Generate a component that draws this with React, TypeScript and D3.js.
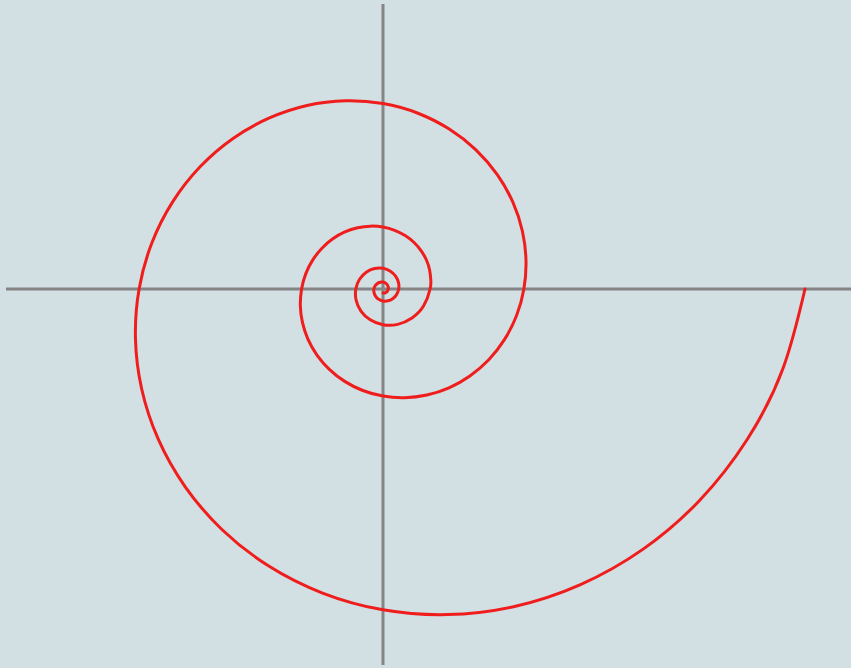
import React, { useEffect, useRef } from 'react';
import * as d3 from 'd3';

// spiral samples (screen angle in degrees, clockwise from +x)
const angles = [
  0, 11.25, 22.5, 33.75, 45, 56.25, 67.5, 78.75,
  90, 101.25, 112.5, 123.75, 135, 146.25, 157.5, 168.75,
  180, 191.25, 202.5, 213.75, 225, 236.25, 247.5, 258.75,
  270, 281.25, 292.5, 303.75, 315, 326.25, 337.5, 348.75,
  360, 371.25, 382.5, 393.75, 405, 416.25, 427.5, 438.75,
  450, 461.25, 472.5, 483.75, 495, 506.25, 517.5, 528.75,
  540, 551.25, 562.5, 573.75, 585, 596.25, 607.5, 618.75,
  630, 641.25, 652.5, 663.75, 675, 686.25, 697.5, 708.75,
  720, 742.5, 765, 787.5, 810, 832.5, 855, 877.5,
  900, 922.5, 945, 967.5, 990, 1012.5, 1035, 1057.5,
  1080, 1102.5, 1125, 1147.5, 1170, 1192.5, 1215, 1237.5,
  1260, 1282.5, 1305, 1327.5, 1350, 1372.5, 1395, 1417.5,
  1440, 1462.5, 1485, 1507.5, 1530,
];
const radii = [
  4.22, 4.078, 3.94, 3.807, 3.679, 3.555, 3.436, 3.32,
  3.208, 3.1, 2.996, 2.895, 2.797, 2.703, 2.612, 2.524,
  2.439, 2.357, 2.277, 2.2, 2.126, 2.054, 1.986, 1.919,
  1.854, 1.792, 1.731, 1.673, 1.616, 1.562, 1.509, 1.458,
  1.409, 1.362, 1.316, 1.272, 1.229, 1.188, 1.147, 1.108,
  1.071, 1.035, 1.0, 0.966, 0.934, 0.903, 0.872, 0.843,
  0.814, 0.787, 0.76, 0.734, 0.71, 0.686, 0.663, 0.641,
  0.619, 0.598, 0.578, 0.559, 0.54, 0.522, 0.504, 0.487,
  0.471, 0.44, 0.41, 0.383, 0.358, 0.334, 0.312, 0.291,
  0.272, 0.254, 0.237, 0.221, 0.207, 0.193, 0.18, 0.168,
  0.157, 0.147, 0.137, 0.128, 0.12, 0.112, 0.104, 0.097,
  0.091, 0.085, 0.079, 0.074, 0.069, 0.065, 0.06, 0.056,
  0.053, 0.049, 0.046, 0.043, 0.04,
];

// axis extents in data units
const xAxisExtent = [-3.77, 4.68];
const yAxisExtent = [2.85, -3.76];

const width = 851;
const height = 668;

const App = () => {
  const ref = useRef<SVGSVGElement>(null);

  useEffect(() => {
    const svg = d3.select(ref.current);
    svg.selectAll('*').remove();

    const x = d3.scaleLinear().domain([-3.83, 4.68]).range([0, width]);
    const y = d3.scaleLinear().domain([2.89, -3.79]).range([0, height]);
    const r = d3.scaleLinear().domain([0, 1]).range([0, x(1) - x(0)]);

    svg.append('rect')
      .attr('width', width)
      .attr('height', height)
      .attr('fill', '#d2dfe3');

    // axes
    svg.append('line')
      .attr('x1', x(xAxisExtent[0]))
      .attr('x2', x(xAxisExtent[1]))
      .attr('y1', y(0))
      .attr('y2', y(0))
      .attr('stroke', '#858585')
      .attr('stroke-width', 3);

    svg.append('line')
      .attr('x1', x(0))
      .attr('x2', x(0))
      .attr('y1', y(yAxisExtent[0]))
      .attr('y2', y(yAxisExtent[1]))
      .attr('stroke', '#858585')
      .attr('stroke-width', 3);

    const data = angles.map((a, i) => ({ a, r: radii[i] }));

    const spiral = d3.lineRadial<{ a: number; r: number }>()
      .angle(d => (d.a * Math.PI) / 180 + Math.PI / 2)
      .radius(d => r(d.r))
      .curve(d3.curveNatural);

    svg.append('path')
      .datum(data)
      .attr('transform', `translate(${x(0)},${y(0)})`)
      .attr('d', spiral)
      .attr('fill', 'none')
      .attr('stroke', '#f01d1d')
      .attr('stroke-width', 3)
      .attr('stroke-linecap', 'round');
  }, []);

  return (
    <svg
      ref={ref}
      width={width}
      height={height}
      style={{ position: 'absolute', left: 0, top: 0, display: 'block' }}
    />
  );
};

export default App;
